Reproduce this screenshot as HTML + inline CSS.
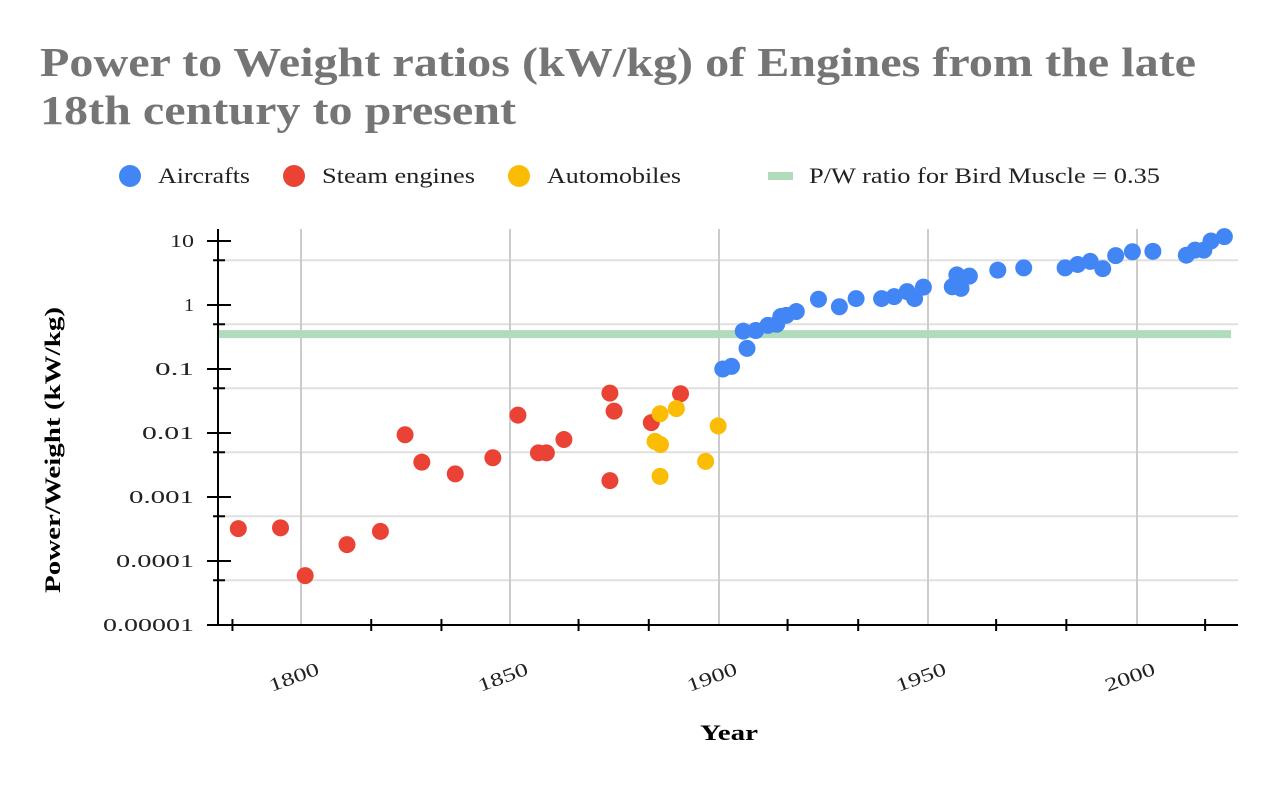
<!DOCTYPE html>
<html><head><meta charset="utf-8"><style>
html,body{margin:0;padding:0;background:#fff;}
svg{display:block;font-family:"Liberation Serif",serif;}
</style></head><body>
<svg id="chart" width="1278" height="786" viewBox="0 0 1278 786">
<text x="40" y="76" font-size="41" font-weight="bold" fill="#757575" textLength="1156" lengthAdjust="spacingAndGlyphs">Power to Weight ratios (kW/kg) of Engines from the late</text>
<text x="40" y="124" font-size="41" font-weight="bold" fill="#757575" textLength="476" lengthAdjust="spacingAndGlyphs">18th century to present</text>
<g>
<g><circle cx="130" cy="176" r="11" fill="#4285f4"/><text x="158" y="183" font-size="22" fill="#222" textLength="92" lengthAdjust="spacingAndGlyphs">Aircrafts</text></g>
<g><circle cx="294" cy="176" r="11" fill="#ea4335"/><text x="322" y="183" font-size="22" fill="#222" textLength="153" lengthAdjust="spacingAndGlyphs">Steam engines</text></g>
<g><circle cx="519" cy="176" r="11" fill="#fbbc04"/><text x="547" y="183" font-size="22" fill="#222" textLength="134" lengthAdjust="spacingAndGlyphs">Automobiles</text></g>
<g><rect x="768" y="172" width="25" height="8" fill="#b0dcbc"/><text x="809" y="183" font-size="22" fill="#222" textLength="351" lengthAdjust="spacingAndGlyphs">P/W ratio for Bird Muscle = 0.35</text></g>
</g>
<g id="grid"></g>
<g id="marks"></g>
<g id="axes"></g>
<text x="729" y="740" font-size="22" font-weight="bold" text-anchor="middle" fill="#000" textLength="58" lengthAdjust="spacingAndGlyphs">Year</text>
<text transform="translate(60,450) rotate(-90)" font-size="22" font-weight="bold" text-anchor="middle" fill="#000" textLength="286" lengthAdjust="spacingAndGlyphs">Power/Weight (kW/kg)</text>
</svg>
<script>
const steamYears=[1785,1795.1,1801,1811,1819,1824.9,1828.9,1836.9,1845.9,1851.9,1856.8,1858.7,1862.9,1873.9,1874.9,1873.9,1883.8,1890.8];
const steamValues=[0.00032,0.00033,0.000059,0.00018,0.00029,0.0094,0.0035,0.0023,0.0041,0.019,0.0049,0.0049,0.0079,0.042,0.022,0.0018,0.0145,0.041];
const autoYears=[1885.9,1889.8,1884.7,1886,1885.9,1896.8,1899.8];
const autoValues=[0.020,0.024,0.0074,0.0066,0.0021,0.0036,0.0129];
const airYears=[1900.9,1903,1906.7,1905.8,1908.8,1911.7,1913.8,1914.8,1916.1,1918.5,1923.8,1928.8,1932.8,1938.9,1941.9,1945,1946.8,1948.9,1955.8,1956.9,1957.9,1959.9,1966.7,1972.9,1982.8,1985.8,1988.8,1991.8,1994.9,1998.9,2003.8,2011.8,2013.9,2016,2017.7,2020.9];
const airValues=[0.1,0.11,0.21,0.39,0.40,0.48,0.50,0.66,0.69,0.79,1.23,0.94,1.26,1.26,1.35,1.62,1.26,1.9,1.93,2.95,1.82,2.83,3.5,3.8,3.8,4.3,4.8,3.7,5.9,6.8,6.9,6.0,7.2,7.2,10,11.7];
const birdValue=0.35;
const xLabelYears=[1800,1850,1900,1950,2000];
const xTickYears=[1783.6,1816.8,1833.6,1866.4,1883.2,1916.4,1933.3,1966.3,1983.1,2016.3];
const yMajorValues=[10,1,0.1,0.01,0.001,0.0001,0.00001];
const yMajorLabels=["10","1","0.1","0.01","0.001","0.0001","0.00001"];
const yMinorValues=[5,0.5,0.05,0.005,0.0005,0.00005];

const NS="http://www.w3.org/2000/svg";
const X0=218,X1=1238,Y0=625,YT=229;
function xs(yr){return 301+(yr-1800)*4.18;}
function ys(v){return 241+(1-Math.log10(v))*64;}
function mk(tag,attrs,parent){const e=document.createElementNS(NS,tag);for(const k in attrs)e.setAttribute(k,attrs[k]);parent.appendChild(e);return e;}
const grid=document.getElementById('grid'),marks=document.getElementById('marks'),axes=document.getElementById('axes');
yMinorValues.forEach(v=>{const l=mk('line',{x1:X0,x2:X1,y1:ys(v),y2:ys(v),stroke:'#e0e0e0','stroke-width':2},grid);

});
xLabelYears.forEach(yr=>{const l=mk('line',{x1:xs(yr),x2:xs(yr),y1:YT,y2:Y0,stroke:'#cccccc','stroke-width':2},grid);

});
const bird=mk('line',{x1:X0,x2:1231,y1:ys(birdValue),y2:ys(birdValue),stroke:'#b0dcbc','stroke-width':8},marks);


function series(years,vals,color,name){years.forEach((yr,i)=>{const c=mk('circle',{cx:xs(yr),cy:ys(vals[i]),r:8.5,fill:color},marks);

});}
series(steamYears,steamValues,'#ea4335','steam-engine-point');
series(autoYears,autoValues,'#fbbc04','automobile-point');
series(airYears,airValues,'#4285f4','aircraft-point');
const ya=mk('line',{x1:X0,x2:X0,y1:YT,y2:Y0+1,stroke:'#000','stroke-width':2},axes);


const xa=mk('line',{x1:207,x2:X1,y1:Y0,y2:Y0,stroke:'#000','stroke-width':2},axes);


yMajorValues.forEach((v,i)=>{const t=mk('line',{x1:207,x2:231,y1:ys(v),y2:ys(v),stroke:'#000','stroke-width':2},axes);


const lab=yMajorLabels[i];
const w=lab.length===1?10:(lab==="10"?24:lab.length*13);
const tx=mk('text',{x:194,y:ys(v)+6,'font-size':18,'text-anchor':'end',fill:'#222',textLength:w,lengthAdjust:'spacingAndGlyphs'},axes);tx.textContent=lab;

});
yMinorValues.forEach(v=>{const t=mk('line',{x1:213,x2:225,y1:ys(v),y2:ys(v),stroke:'#000','stroke-width':2},axes);

});
xTickYears.forEach(yr=>{const t=mk('line',{x1:xs(yr),x2:xs(yr),y1:Y0-6,y2:Y0+6,stroke:'#000','stroke-width':2},axes);

});
xLabelYears.forEach(yr=>{const x=xs(yr)-5,y=683;const tx=mk('text',{x:x,y:y,'font-size':19,'text-anchor':'middle',fill:'#222',textLength:52,lengthAdjust:'spacingAndGlyphs',transform:'rotate(-20 '+x+' '+y+')'},axes);tx.textContent=String(yr);

});
</script>
</body></html>
